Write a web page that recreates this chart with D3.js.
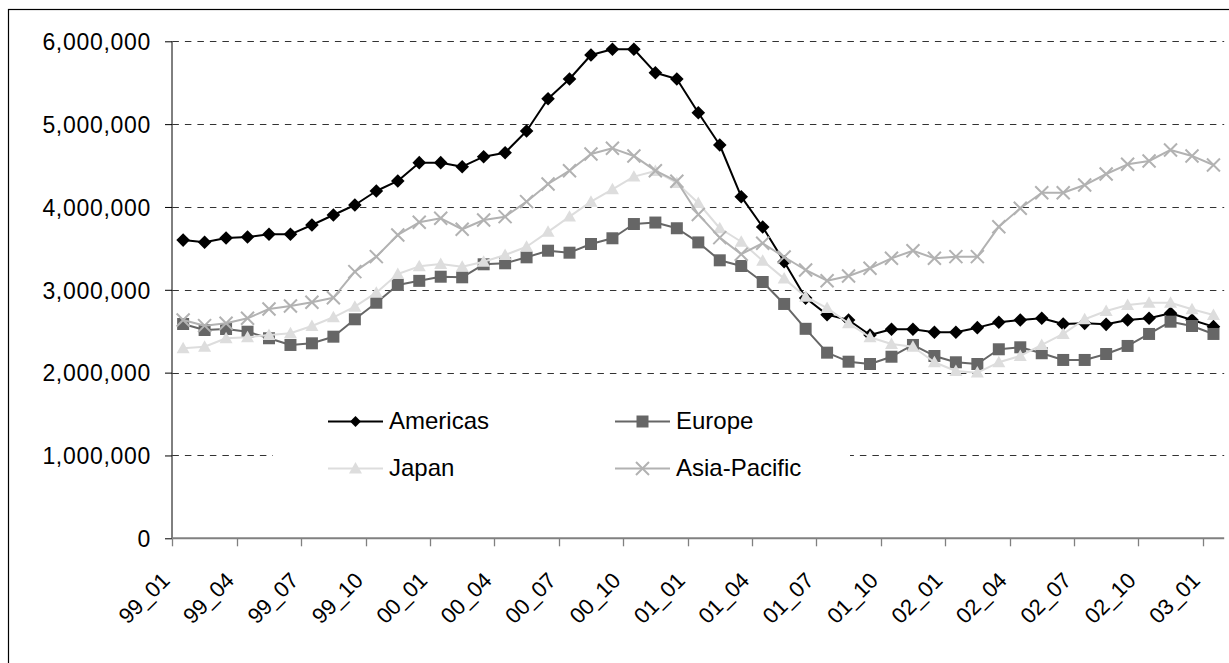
<!DOCTYPE html>
<html>
<head>
<meta charset="utf-8">
<script src="https://cdn.jsdelivr.net/npm/d3@7"></script>
<style>
  html, body { margin: 0; padding: 0; background: #fff; }
  svg { display: block; font-family: "Liberation Sans", Arial, sans-serif; }
</style>
</head>
<body>
<svg id="chart" width="1229" height="663"></svg>
<script>
// Monthly categories, 1999-01 through 2003-01
const months = [
  "99_01","99_02","99_03","99_04","99_05","99_06","99_07","99_08","99_09","99_10","99_11","99_12",
  "00_01","00_02","00_03","00_04","00_05","00_06","00_07","00_08","00_09","00_10","00_11","00_12",
  "01_01","01_02","01_03","01_04","01_05","01_06","01_07","01_08","01_09","01_10","01_11","01_12",
  "02_01","02_02","02_03","02_04","02_05","02_06","02_07","02_08","02_09","02_10","02_11","02_12",
  "03_01"
];
// Labelled months on the category axis (every quarter)
const tickLabels = ["99_01","99_04","99_07","99_10","00_01","00_04","00_07","00_10",
  "01_01","01_04","01_07","01_10","02_01","02_04","02_07","02_10","03_01"];
const yTicks = [0, 1000000, 2000000, 3000000, 4000000, 5000000, 6000000];

const americas = [
  3600000,3574000,3626000,3638000,3670000,3670000,3782000,3903000,4024000,4193000,4314000,4535000,
  4535000,4486000,4607000,4655000,4917000,5307000,5545000,5835000,5904000,5904000,5621000,5545000,
  5138000,4748000,4124000,3758000,3339000,2900000,2700000,2636000,2454000,2523000,2523000,2487000,
  2487000,2543000,2608000,2636000,2656000,2587000,2595000,2583000,2636000,2656000,2716000,2636000,
  2555000
];
const europe = [
  2587000,2515000,2527000,2494000,2415000,2334000,2354000,2434000,2644000,2844000,3058000,3108000,
  3158000,3151000,3308000,3320000,3392000,3472000,3448000,3553000,3622000,3794000,3812000,3743000,
  3572000,3356000,3287000,3094000,2829000,2529000,2241000,2132000,2104000,2192000,2334000,2201000,
  2125000,2104000,2282000,2306000,2234000,2153000,2153000,2225000,2322000,2467000,2615000,2563000,
  2467000
];
const japan = [
  2294000,2313000,2415000,2427000,2454000,2475000,2563000,2668000,2796000,2965000,3191000,3283000,
  3311000,3279000,3339000,3420000,3520000,3700000,3883000,4064000,4213000,4366000,4434000,4290000,
  4048000,3743000,3580000,3350000,3135000,2917000,2780000,2596000,2427000,2346000,2313000,2125000,
  2020000,2000000,2125000,2201000,2334000,2467000,2644000,2744000,2817000,2844000,2844000,2765000,
  2696000
];
const asiaPacific = [
  2636000,2567000,2596000,2656000,2768000,2805000,2849000,2905000,3219000,3400000,3662000,3815000,
  3863000,3731000,3843000,3883000,4064000,4277000,4438000,4640000,4708000,4616000,4438000,4310000,
  3910000,3630000,3430000,3562000,3396000,3239000,3110000,3167000,3260000,3380000,3472000,3380000,
  3400000,3400000,3762000,3984000,4172000,4172000,4265000,4398000,4515000,4555000,4688000,4616000,
  4507000
];

const seriesNames = ["Americas", "Europe", "Japan", "Asia-Pacific"];
const seriesValues = [americas, europe, japan, asiaPacific];
const seriesColors = ["#000000", "#666666", "#dddddd", "#b2b2b2"];
const seriesMarkers = ["diamond", "square", "triangle", "cross"];

const plot = { left: 172.4, right: 1224.2, top: 41.3, bottom: 538.3 };
const svg = d3.select("#chart");

// Chart frame (only top and left edges fall inside the view)
svg.append("rect")
  .attr("x", 8.5).attr("y", 9.5).attr("width", 1300).attr("height", 800)
  .attr("fill", "#fff").attr("stroke", "#000").attr("stroke-width", 1.2);

const x = d3.scaleBand().domain(months).range([plot.left, plot.right]).padding(0);
const cx = m => x(m) + x.bandwidth() / 2;
const y = d3.scaleLinear().domain([0, 6000000]).range([plot.bottom, plot.top]);
const crisp = v => Math.round(v) + 0.5;

// Dashed horizontal gridlines
svg.append("g").selectAll("line")
  .data(yTicks.filter(v => v > 0))
  .join("line")
  .attr("x1", plot.left).attr("x2", plot.right)
  .attr("y1", d => crisp(y(d))).attr("y2", d => crisp(y(d)))
  .attr("stroke", "#333").attr("stroke-width", 1)
  .attr("stroke-dasharray", "6.5,6");

// Legend background covers the gridline behind it
svg.append("rect")
  .attr("x", 273).attr("y", 392).attr("width", 577).attr("height", 100)
  .attr("fill", "#fff");

// Y axis
const yAxis = svg.append("g")
  .attr("transform", `translate(${crisp(plot.left) - 0.5},0)`)
  .call(d3.axisLeft(y).tickValues(yTicks).tickFormat(d3.format(",")).tickSize(7).tickPadding(14));
yAxis.select(".domain").remove();
yAxis.selectAll(".tick line").attr("stroke", "#000");
yAxis.selectAll(".tick text")
  .attr("font-family", "Liberation Sans, Arial, sans-serif")
  .attr("font-size", 23).attr("letter-spacing", 0.7)
  .attr("fill", "#000").attr("dy", "0.36em");
svg.append("line")
  .attr("x1", crisp(plot.left) - 0.5).attr("x2", crisp(plot.left) - 0.5)
  .attr("y1", y(6000000)).attr("y2", y(0))
  .attr("stroke", "#000").attr("stroke-width", 1);

// X axis: line, quarter tick marks on category boundaries, rotated labels
const xAxis = svg.append("g");
xAxis.append("line")
  .attr("x1", plot.left).attr("x2", plot.right)
  .attr("y1", y(0)).attr("y2", y(0))
  .attr("stroke", "#808080").attr("stroke-width", 2);
xAxis.selectAll("line.tick")
  .data(tickLabels)
  .join("line").attr("class", "tick")
  .attr("x1", d => crisp(x(d))).attr("x2", d => crisp(x(d)))
  .attr("y1", y(0)).attr("y2", y(0) + 8)
  .attr("stroke", "#808080").attr("stroke-width", 1.3);
xAxis.selectAll("text")
  .data(tickLabels)
  .join("text")
  .attr("transform", d => `translate(${cx(d) - 12},${y(0) + 43.5}) rotate(-45)`)
  .attr("text-anchor", "end")
  .attr("font-size", 22).attr("fill", "#000")
  .text(d => d);

// Marker shapes
function markerPath(type, s) {
  switch (type) {
    case "diamond": return `M0,${-s}L${s},0L0,${s}L${-s},0Z`;
    case "square": return `M${-s},${-s}H${s}V${s}H${-s}Z`;
    case "triangle": return `M0,${-s * 1.05}L${s * 1.05},${s * 0.8}L${-s * 1.05},${s * 0.8}Z`;
    case "cross": return `M${-s},${-s}L${s},${s}M${-s},${s}L${s},${-s}`;
  }
}
const markerSize = { diamond: 6.8, square: 6, triangle: 6.2, cross: 6.5 };

function drawMarker(sel, type, color, scale) {
  const s = markerSize[type] * scale;
  if (type === "cross") {
    sel.append("path").attr("d", markerPath(type, s))
      .attr("fill", "none").attr("stroke", color).attr("stroke-width", 2);
  } else {
    sel.append("path").attr("d", markerPath(type, s)).attr("fill", color);
  }
}

// Series: line then markers, drawn in order so later series sit on top
const line = d3.line().x((d, i) => cx(months[i])).y(d => y(d));
seriesNames.forEach((name, k) => {
  const g = svg.append("g").attr("class", "series");
  g.append("path")
    .datum(seriesValues[k])
    .attr("d", line)
    .attr("fill", "none")
    .attr("stroke", seriesColors[k])
    .attr("stroke-width", 2)
    .attr("stroke-linejoin", "round");
  g.selectAll("g.pt")
    .data(seriesValues[k])
    .join("g").attr("class", "pt")
    .attr("transform", (d, i) => `translate(${cx(months[i])},${y(d)})`)
    .each(function () { drawMarker(d3.select(this), seriesMarkers[k], seriesColors[k], 1); });
});

// Legend, two columns by two rows
const legendCols = [328, 615];
const legendRows = [421.5, 468.5];
seriesNames.forEach((name, k) => {
  const lx = legendCols[k % 2], ly = legendRows[Math.floor(k / 2)];
  const g = svg.append("g").attr("transform", `translate(${lx},${ly})`);
  g.append("line").attr("x1", 0).attr("x2", 55).attr("y1", 0).attr("y2", 0)
    .attr("stroke", seriesColors[k]).attr("stroke-width", 2);
  const m = g.append("g").attr("transform", "translate(27.5,0)");
  drawMarker(m, seriesMarkers[k], seriesColors[k], k === 0 ? 0.8 : 1);
  g.append("text").attr("x", 61).attr("y", 7.5)
    .attr("font-size", 24).attr("fill", "#000")
    .text(name);
});
</script>
</body>
</html>
